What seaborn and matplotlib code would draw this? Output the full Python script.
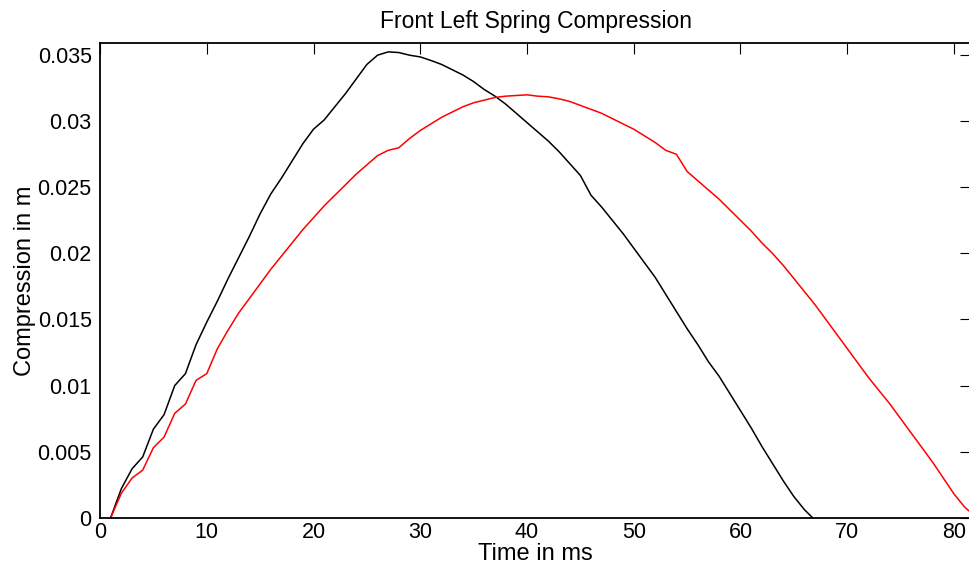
import numpy as np
import pandas as pd
import matplotlib
matplotlib.use("Agg")
import matplotlib.pyplot as plt
from matplotlib.ticker import FuncFormatter
import seaborn as sns

# time in ms, one sample per ms
time_front = list(range(1, 68))
comp_front = [0.0, 0.0022, 0.0037, 0.0046, 0.0067, 0.0078, 0.0100, 0.0109, 0.0131, 0.0148,
              0.0164, 0.0181, 0.0197, 0.0213, 0.0230, 0.0245, 0.0257, 0.0270, 0.0283, 0.0294,
              0.0301, 0.0311, 0.0321, 0.0332, 0.0343, 0.0350, 0.03525, 0.0352, 0.0350, 0.03487,
              0.0346, 0.0343, 0.0339, 0.0335, 0.0330, 0.0324, 0.0319, 0.0313, 0.0306, 0.0299,
              0.0292, 0.0285, 0.0277, 0.0268, 0.0259, 0.0244, 0.0235, 0.0225, 0.0215, 0.0204,
              0.0193, 0.0182, 0.0169, 0.0156, 0.0143, 0.0131, 0.0118, 0.0107, 0.0094, 0.0081,
              0.0068, 0.0054, 0.0041, 0.0028, 0.0016, 0.0006, -0.0002]

time_rear = list(range(1, 83))
comp_rear = [0.0, 0.00185, 0.0030, 0.0036, 0.0053, 0.0061, 0.0079, 0.0086, 0.0104, 0.0109,
             0.0128, 0.0142, 0.0155, 0.0166, 0.0177, 0.0188, 0.0198, 0.0208, 0.0218, 0.0227,
             0.0236, 0.0244, 0.0252, 0.0260, 0.0267, 0.0274, 0.0278, 0.0280, 0.0287, 0.0293,
             0.0298, 0.0303, 0.0307, 0.0311, 0.0314, 0.0316, 0.0318, 0.0319, 0.03195, 0.0320,
             0.0319, 0.03185, 0.0317, 0.0315, 0.0312, 0.0309, 0.0306, 0.0302, 0.0298, 0.0294,
             0.0289, 0.0284, 0.0278, 0.0275, 0.0262, 0.0255, 0.0248, 0.0241, 0.0233, 0.0225,
             0.0217, 0.0208, 0.0200, 0.0191, 0.0181, 0.0171, 0.0161, 0.0150, 0.0139, 0.0128,
             0.0117, 0.0106, 0.0096, 0.0086, 0.0075, 0.0064, 0.0053, 0.0042, 0.0030, 0.0018,
             0.0008, 0.0001]

x_ticks = [0, 10, 20, 30, 40, 50, 60, 70, 80]
y_ticks = [0, 0.005, 0.01, 0.015, 0.02, 0.025, 0.03, 0.035]

df = pd.concat([
    pd.DataFrame({"t": time_front, "c": comp_front, "run": "a"}),
    pd.DataFrame({"t": time_rear, "c": comp_rear, "run": "b"}),
])

sns.set_style("white")
plt.rcParams["font.family"] = ["Liberation Sans", "DejaVu Sans"]
plt.rcParams["text.color"] = "black"
plt.rcParams["axes.labelcolor"] = "black"

fig = plt.figure(figsize=(9.7, 5.72), dpi=100)
ax = fig.add_axes([0.1031, 0.0949, 0.898, 0.8294])

sns.lineplot(data=df, x="t", y="c", hue="run", palette={"a": "black", "b": "red"},
             linewidth=1.1, legend=False, ax=ax, estimator=None, sort=False)

ax.set_xlim(0, 81.6)
ax.set_ylim(0, 0.0359)
ax.set_xticks(x_ticks)
ax.set_yticks(y_ticks)
ax.yaxis.set_major_formatter(FuncFormatter(lambda v, p: "%g" % v))
ax.tick_params(direction="in", top=True, right=True, length=8, width=0.8,
               labelsize=15.5, colors="black")
ax.tick_params(axis="y", pad=6)
ax.tick_params(axis="x", pad=3)
for s in ax.spines.values():
    s.set_color("black")
    s.set_linewidth(1.3)

ax.set_title("Front Left Spring Compression", fontsize=16.5, pad=11, color="black")
ax.set_xlabel("Time in ms", fontsize=17, labelpad=0)
ax.set_ylabel("Compression in m", fontsize=17, labelpad=1)

fig.savefig("out.png", dpi=100)
